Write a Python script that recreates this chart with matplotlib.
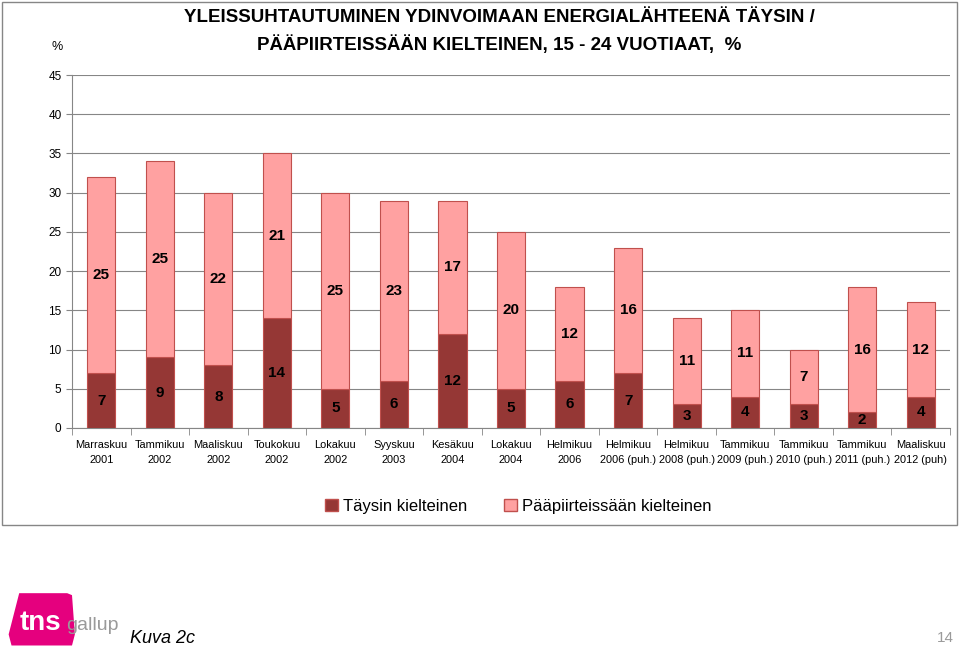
import numpy as np
import matplotlib.pyplot as plt
from matplotlib.patches import Rectangle, Polygon, Patch

plt.rcParams['font.family'] = ['Liberation Sans', 'DejaVu Sans']

categories = ["Marraskuu\n2001", "Tammikuu\n2002", "Maaliskuu\n2002", "Toukokuu\n2002",
              "Lokakuu\n2002", "Syyskuu\n2003", "Kesäkuu\n2004", "Lokakuu\n2004",
              "Helmikuu\n2006", "Helmikuu\n2006 (puh.)", "Helmikuu\n2008 (puh.)",
              "Tammikuu\n2009 (puh.)", "Tammikuu\n2010 (puh.)", "Tammikuu\n2011 (puh.)",
              "Maaliskuu\n2012 (puh)"]
taysin = [7, 9, 8, 14, 5, 6, 12, 5, 6, 7, 3, 4, 3, 2, 4]
paapiirteissaan = [25, 25, 22, 21, 25, 23, 17, 20, 12, 16, 11, 11, 7, 16, 12]

DARK = "#953735"
LIGHT = "#FFA1A1"
EDGE = "#C0504D"

fig = plt.figure(figsize=(9.6, 6.54), dpi=100)
ax = fig.add_axes([0.075, 0.3456, 0.9146, 0.5397])

x = np.arange(len(categories))
w = 0.48
ax.bar(x, taysin, w, color=DARK, edgecolor=EDGE, linewidth=0.8, label="Täysin kielteinen", zorder=3)
ax.bar(x, paapiirteissaan, w, bottom=taysin, color=LIGHT, edgecolor=EDGE, linewidth=0.8,
       label="Pääpiirteissään kielteinen", zorder=3)

for xi, d, l in zip(x, taysin, paapiirteissaan):
    ax.text(xi, d / 2, str(d), ha='center', va='center', fontsize=11, fontweight='bold', zorder=4)
    ax.text(xi, d + l / 2, str(l), ha='center', va='center', fontsize=11, fontweight='bold', zorder=4)

ax.set_xlim(-0.5, len(categories) - 0.5)
ax.set_ylim(0, 45)
ax.set_yticks(range(0, 46, 5))
ax.yaxis.grid(True, color="#868686", linewidth=0.8, zorder=0)
ax.set_xticks(x)
ax.set_xticklabels(categories, fontsize=7.9, linespacing=1.6)
ax.set_xticks(np.arange(-0.5, len(categories), 1), minor=True)
ax.tick_params(axis='x', which='major', length=0, pad=9)
ax.tick_params(axis='x', which='minor', length=5, color="#868686")
ax.tick_params(axis='y', labelsize=8.5, length=4, color="#868686")
for s in ['top', 'right']:
    ax.spines[s].set_visible(False)
for s in ['left', 'bottom']:
    ax.spines[s].set_color("#868686")

fig.text(0.06, 0.928, "%", fontsize=9, ha='center', va='center')
fig.text(0.52, 0.952, "YLEISSUHTAUTUMINEN YDINVOIMAAN ENERGIALÄHTEENÄ TÄYSIN /\nPÄÄPIIRTEISSÄÄN KIELTEINEN, 15 - 24 VUOTIAAT,  %",
         fontsize=13.5, fontweight='bold', ha='center', va='center', linespacing=1.6)

handles = [Patch(facecolor=DARK, edgecolor=EDGE), Patch(facecolor=LIGHT, edgecolor=EDGE)]
fig.legend(handles, ["Täysin kielteinen", "Pääpiirteissään kielteinen"], loc='center',
           bbox_to_anchor=(0.54, 0.226), ncol=2, frameon=False, fontsize=12,
           handlelength=0.8, handleheight=0.8, handletextpad=0.3, columnspacing=2.2)

# chart border
fig.patches.append(Rectangle((0.002, 0.197), 0.995, 0.8, transform=fig.transFigure,
                             fill=False, edgecolor="#868686", linewidth=1))

# logo
fig.patches.append(Polygon([[0.012, 0.013], [0.075, 0.013], [0.078, 0.03], [0.075, 0.09],
                            [0.07, 0.093], [0.02, 0.093], [0.009, 0.03]],
                           closed=True, transform=fig.transFigure, facecolor="#E5007E",
                           edgecolor="none"))
fig.text(0.042, 0.028, "tns", color="white", fontsize=20, fontweight='bold', ha='center',
         va='bottom')
fig.text(0.069, 0.03, "gallup", color="#9A9A9A", fontsize=14, ha='left', va='bottom')
fig.text(0.135, 0.024, "Kuva 2c", fontsize=13, style='italic', ha='left', va='center')
fig.text(0.994, 0.024, "14", fontsize=11, color="#9A9A9A", ha='right', va='center')

fig.savefig("out.png", dpi=100)
